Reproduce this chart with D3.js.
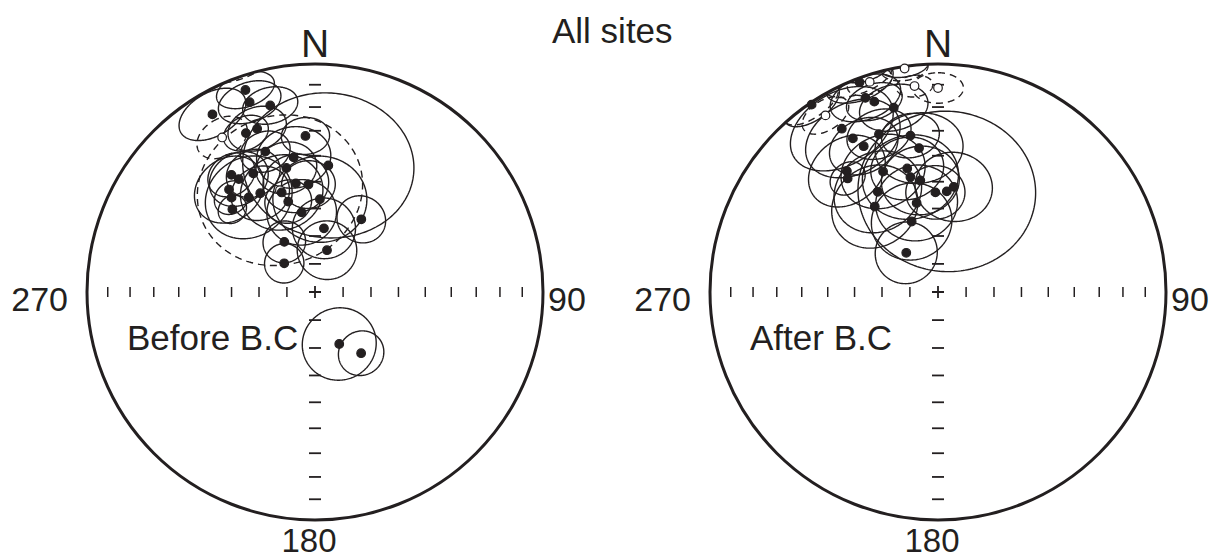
<!DOCTYPE html>
<html>
<head>
<meta charset="utf-8">
<script src="https://cdn.jsdelivr.net/npm/d3@7/dist/d3.min.js"></script>
<style>
  body { margin: 0; background: #fff; }
  svg text { font-family: "Liberation Sans", Arial, sans-serif; fill: #231f20; }
</style>
</head>
<body>
<div id="chart"></div>
<script>
// Site mean directions: [declination, inclination, alpha95]
// negative inclination = upper hemisphere (open symbol, dashed cone)
const beforeSites = [
  [341, -51, 28], [329, -22, 8],
  [341, 7, 8], [341, 13, 9], [346.5, 17, 8], [330, 11, 10], [340.5, 25, 9],
  [336.5, 25, 7], [356.5, 32, 7.5], [340.5, 35, 8], [351, 40, 12],
  [6, 43.5, 28], [347, 43.5, 10], [332.5, 41, 9], [324.5, 37, 8], [350, 50, 11],
  [356.5, 51, 9], [320, 41, 12], [341.5, 52, 14], [331, 49, 10], [318.5, 44, 6],
  [343.5, 56, 8], [3, 56.5, 16], [315, 47.5, 5], [350.5, 61, 12], [32.5, 59, 8.5],
  [8, 67, 11], [328.5, 69, 7.5], [16, 74.5, 10.5], [313, 75, 7], [155, 69.5, 13],
  [143, 62.5, 8], [326, 40, 10], [325, 48, 15]
];

const afterSites = [
  [351.5, -1, 6], [353.5, -10, 5], [327.5, -9, 7], [342, -3.5, 6], [0, -11.5, 7],
  [326, 1, 8], [339.5, 2, 9], [339.5, 10, 10], [341.5, 13, 8], [346.5, 18, 10],
  [329.5, 18, 16], [331, 24, 15], [339.5, 27, 10], [350, 31, 9], [333, 29, 11],
  [352.5, 36.5, 14], [323, 34, 13], [321.5, 36.5, 6], [335.5, 41.5, 14], [346, 43.5, 12],
  [351, 49, 13], [346.5, 47, 16], [329, 47.5, 15], [358.5, 54, 10], [5, 53.5, 30],
  [8.5, 51.5, 13], [346.5, 57, 14], [323.5, 51.5, 15], [339.5, 63, 14], [321, 72, 11]
];

const netLabels = ['Before B.C', 'After B.C'];
const tickIncs = [10, 20, 30, 40, 50, 60, 70, 80];
const title = 'All sites';

// layout
const width = 1212, height = 558;
const R = 228, cy = 292;
const centres = [315, 938];
const ink = '#231f20';
const rad = Math.PI / 180;

const svg = d3.select('#chart').append('svg')
  .attr('width', width)
  .attr('height', height);

// equal-area (Schmidt) projection, returns [east, north] on the unit circle
function eqArea(dec, inc) {
  const p = (90 - Math.abs(inc)) * rad;
  const r = Math.SQRT2 * Math.sin(p / 2);
  return [r * Math.sin(dec * rad), r * Math.cos(dec * rad)];
}

// alpha95 as an ellipse in the projection plane (radial and tangential
// scale of the equal-area net), folded back inside the primitive where it
// crosses into the other hemisphere; returns solid/dashed runs
function coneRuns(dec, inc, a95) {
  const p = (90 - Math.abs(inc)) * rad;
  const a = a95 * rad;
  const r0 = Math.SQRT2 * Math.sin(p / 2);
  const ra = a * Math.SQRT1_2 * Math.cos(p / 2);
  const ta = a / (Math.SQRT2 * Math.cos(p / 2));
  const ur = [Math.sin(dec * rad), Math.cos(dec * rad)];
  const ut = [Math.cos(dec * rad), -Math.sin(dec * rad)];
  const baseLower = inc >= 0;
  const raw = d3.range(0, 241).map(k => {
    const t = k / 240 * 2 * Math.PI;
    const u = r0 + ra * Math.cos(t), v = ta * Math.sin(t);
    return [u * ur[0] + v * ut[0], u * ur[1] + v * ut[1]];
  });
  const fold = q => {
    const r = Math.hypot(q[0], q[1]);
    if (r <= 1) return { pt: q, lower: baseLower };
    const rr = Math.sqrt(Math.max(0, 2 - r * r));
    return { pt: [q[0] * rr / r, q[1] * rr / r], lower: !baseLower };
  };
  const runs = [];
  let f0 = fold(raw[0]);
  let cur = { lower: f0.lower, pts: [f0.pt] };
  for (let k = 1; k < raw.length; k++) {
    const fq = fold(raw[k]);
    if (fq.lower !== cur.lower) {
      const p0 = raw[k - 1], q0 = raw[k];
      const rp = Math.hypot(p0[0], p0[1]), rq = Math.hypot(q0[0], q0[1]);
      const f = (1 - rp) / (rq - rp);
      const m = [p0[0] + f * (q0[0] - p0[0]), p0[1] + f * (q0[1] - p0[1])];
      const ml = Math.hypot(m[0], m[1]);
      const edge = [m[0] / ml, m[1] / ml];
      cur.pts.push(edge);
      runs.push(cur);
      cur = { lower: fq.lower, pts: [edge] };
    }
    cur.pts.push(fq.pt);
  }
  runs.push(cur);
  if (runs.length > 1 && runs[0].lower === runs[runs.length - 1].lower) {
    const last = runs.pop();
    runs[0].pts = last.pts.concat(runs[0].pts);
  }
  return runs;
}

function drawNet(cx, sites, label) {
  const x = d3.scaleLinear().domain([-1, 1]).range([cx - R, cx + R]);
  const y = d3.scaleLinear().domain([-1, 1]).range([cy + R, cy - R]);
  const g = svg.append('g');

  const line = d3.line()
    .x(d => x(d[0]))
    .y(d => y(d[1]));

  // tick marks every 10 degrees of inclination along both diameters
  const rTick = tickIncs.map(i => eqArea(90, i)[0]);
  rTick.forEach(r => {
    [-r, r].forEach(s => {
      g.append('line')
        .attr('x1', x(s)).attr('x2', x(s))
        .attr('y1', cy - 5).attr('y2', cy + 5)
        .attr('stroke', ink).attr('stroke-width', 1.5);
      g.append('line')
        .attr('x1', cx - 6).attr('x2', cx + 6)
        .attr('y1', y(s)).attr('y2', y(s))
        .attr('stroke', ink).attr('stroke-width', 1.8);
    });
  });
  g.append('path')
    .attr('d', `M${cx - 6},${cy}H${cx + 6}M${cx},${cy - 6}V${cy + 6}`)
    .attr('stroke', ink).attr('stroke-width', 1.8);

  // primitive circle
  g.append('circle')
    .attr('cx', x(0)).attr('cy', y(0))
    .attr('r', x(1) - x(0))
    .attr('fill', 'none').attr('stroke', ink).attr('stroke-width', 3);

  // alpha95 cones
  sites.forEach(s => {
    coneRuns(s[0], s[1], s[2]).forEach(run => {
      g.append('path')
        .attr('d', line(run.pts))
        .attr('fill', 'none')
        .attr('stroke', ink)
        .attr('stroke-width', 1.4)
        .attr('stroke-dasharray', run.lower ? null : '7,5');
    });
  });

  // site means (upper hemisphere first so filled ones sit on top)
  const ordered = sites.slice().sort((a, b) => (a[1] >= 0) - (b[1] >= 0));
  g.selectAll('circle.site')
    .data(ordered)
    .enter()
    .append('circle')
    .attr('class', 'site')
    .attr('cx', d => x(eqArea(d[0], d[1])[0]))
    .attr('cy', d => y(eqArea(d[0], d[1])[1]))
    .attr('r', 4.3)
    .attr('fill', d => d[1] >= 0 ? ink : '#fff')
    .attr('stroke', ink)
    .attr('stroke-width', 1.2);

  // labels
  g.append('text').attr('x', cx).attr('y', 57)
    .attr('text-anchor', 'middle').attr('font-size', 39).text('N');
  g.append('text').attr('x', cx - R - 19).attr('y', 311)
    .attr('text-anchor', 'end').attr('font-size', 34).text('270');
  g.append('text').attr('x', cx + R + 5).attr('y', 311)
    .attr('text-anchor', 'start').attr('font-size', 34).text('90');
  g.append('text').attr('x', cx - 6).attr('y', 552)
    .attr('text-anchor', 'middle').attr('font-size', 33).text('180');
  g.append('text').attr('x', cx - 188).attr('y', 350)
    .attr('text-anchor', 'start').attr('font-size', 35).text(label);
}

drawNet(centres[0], beforeSites, netLabels[0]);
drawNet(centres[1], afterSites, netLabels[1]);

svg.append('text')
  .attr('x', 552).attr('y', 43)
  .attr('font-size', 35)
  .text(title);
</script>
</body>
</html>
